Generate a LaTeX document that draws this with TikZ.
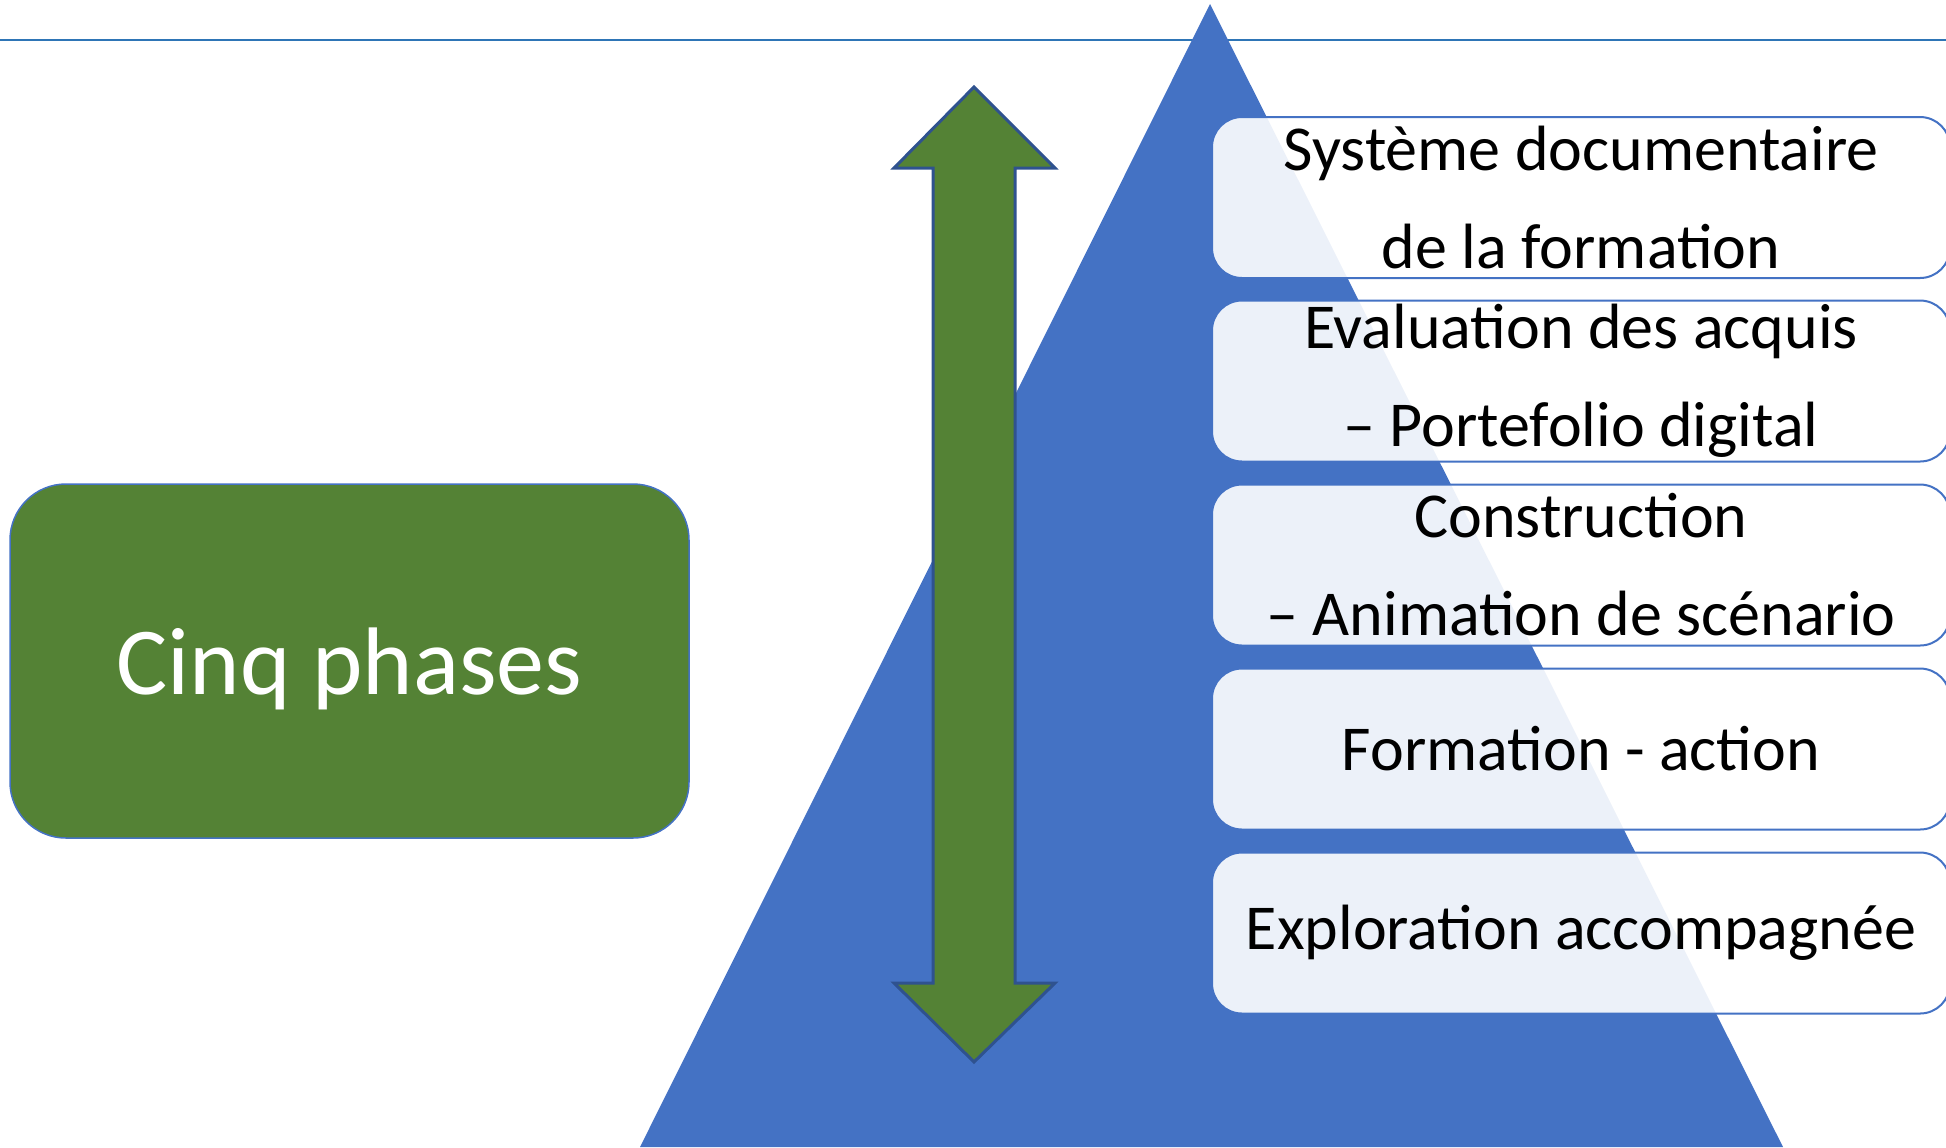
\documentclass[tikz,border=0pt]{standalone}
\usepackage{fontspec}
\setmainfont{Carlito}
\definecolor{pyrblue}{HTML}{4472C4}
\definecolor{phasegreen}{HTML}{548235}
\definecolor{arrowedge}{HTML}{2F528F}
\definecolor{ruleblue}{HTML}{2E75B6}
\begin{document}
\begin{tikzpicture}[x=0.5pt,y=-0.5pt]
        \tikzstyle{phase} = [draw=pyrblue,line width=1pt,fill=white,fill opacity=0.9,text opacity=1,rounded corners=15pt,minimum width=369pt,minimum height=80.5pt,inner sep=0pt,align=center,font=\fontsize{32}{49}\selectfont]
        \tikzstyle{title} = [draw=pyrblue,line width=0.75pt,fill=phasegreen,rounded corners=28pt,minimum width=339.5pt,minimum height=177pt,text=white,font=\fontsize{48}{58}\selectfont]

        \useasboundingbox (0,0) rectangle (1946,1147);
        \draw [ruleblue,line width=1pt] (0,40) -- (1946,40);
        \fill [pyrblue] (1210,4) -- (1783,1147) -- (640,1147) -- cycle;
        \draw [arrowedge,line width=1.5pt,fill=phasegreen,line join=miter]
            (974,87) -- (1055,168) -- (1015,168) -- (1015,983) -- (1055,983) -- (974,1062)
            -- (894,983) -- (933,983) -- (933,168) -- (894,168) -- cycle;

        \node [phase] (docsys) at (1581,197.5) {Système documentaire\\de la formation};
        \node [phase] (evaluation) at (1581,381) {Evaluation des acquis\\– Portefolio digital};
        \node [phase] (construction) at (1581,565) {Construction\\– Animation de scénario};
        \node [phase] (formaction) at (1581,749) {Formation - action};
        \node [phase] (exploration) at (1581,933) {Exploration accompagnée};
        \node [title,text depth=0pt] (cinq) at (349.5,661) {Cinq phases};
    \end{tikzpicture}
\end{document}
